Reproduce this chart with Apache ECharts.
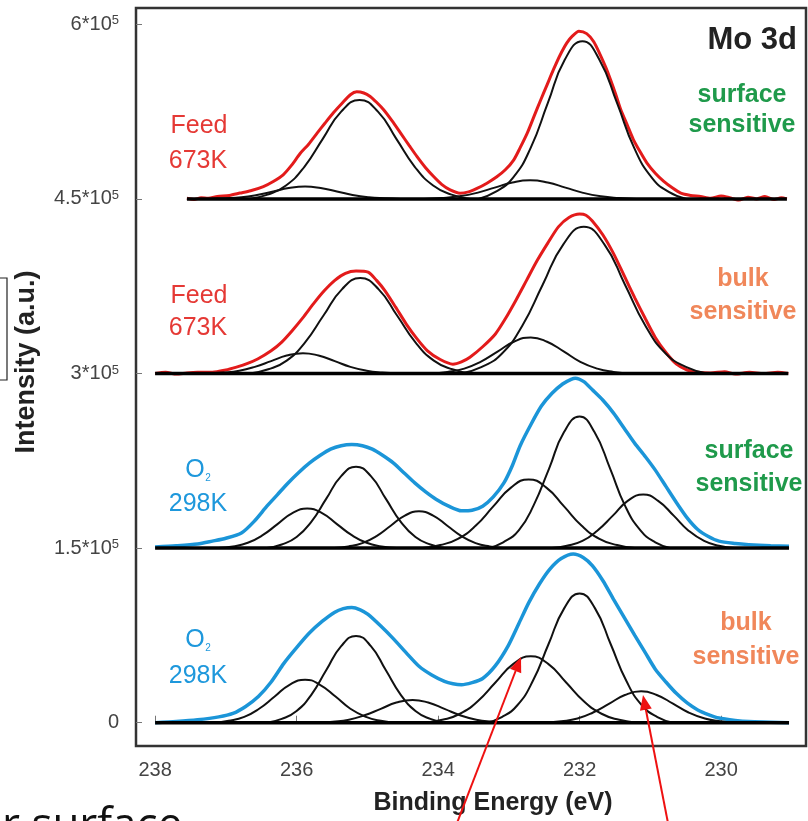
<!DOCTYPE html>
<html><head><meta charset="utf-8">
<script src="https://cdn.jsdelivr.net/npm/echarts@6/dist/echarts.min.js"></script>
<style>html,body{margin:0;padding:0;background:#fff}#c{width:808px;height:821px}</style>
</head><body><div id="c"></div>
<script>
// ---------- axis ticks ----------
const xTicks = [238, 236, 234, 232, 230];
const yTicks = [0, 150000, 300000, 450000, 600000];
const yTickLabels = ['0', '1.5*10', '3*10', '4.5*10', '6*10'];
const yTickExp = ['', '5', '5', '5', '5'];

// ---------- panel baselines (counts) ----------
const panelOffsets = [450000, 300000, 150000, 0];

// ---------- measured spectra: [binding energy eV, intensity above panel baseline in 1e3 counts] ----------
const p1Data = [[237.55,0.5],[237.45,-0.5],[237.35,1],[237.25,0.5],[237.12,2],[236.95,3],[236.80,5],[236.65,7],[236.47,10.6],[236.33,15],[236.19,20.7],[236.07,29],[235.95,39],[235.83,47],[235.71,56.5],[235.60,65],[235.48,74],[235.36,82],[235.24,89.5],[235.15,92],[235.05,91],[234.96,88],[234.87,83],[234.77,76.6],[234.65,67],[234.53,56.5],[234.41,46],[234.30,36.5],[234.18,27],[234.06,19],[233.95,12.5],[233.83,7.7],[233.69,4.9],[233.57,6],[233.45,9],[233.31,13.5],[233.17,19],[233.05,25],[232.93,33.6],[232.84,44],[232.74,56.5],[232.65,70],[232.55,85],[232.46,98],[232.37,111],[232.28,123],[232.18,134],[232.10,140],[232.01,144],[231.90,142],[231.80,135],[231.71,124],[231.63,113],[231.56,102],[231.49,90],[231.42,77],[231.33,64],[231.24,51],[231.14,40],[231.05,31],[230.93,22],[230.81,15],[230.69,9.5],[230.57,5],[230.43,3],[230.29,2],[230.15,0.5],[230.00,2.5],[229.88,1],[229.75,-1],[229.62,1.5],[229.50,0],[229.38,2],[229.25,-0.5],[229.15,1],[229.07,0]];
const p2Data = [[238.0,0],[237.85,1],[237.7,-0.5],[237.55,0.5],[237.4,1],[237.19,1],[237.0,3],[236.85,5.5],[236.72,8],[236.55,12.5],[236.36,19.5],[236.21,27],[236.06,37],[235.91,48],[235.76,60],[235.61,71],[235.46,80],[235.31,86],[235.16,88],[234.99,87],[234.87,80],[234.75,71],[234.60,57],[234.45,42.5],[234.30,30],[234.15,19.5],[233.97,12],[233.79,8],[233.67,10],[233.55,14],[233.37,23],[233.19,34],[233.05,47],[232.90,63],[232.75,80],[232.60,97],[232.45,112],[232.30,126],[232.15,134],[232.00,137],[231.91,136],[231.82,131],[231.67,119],[231.52,103],[231.37,84],[231.22,65],[231.07,47],[230.93,31],[230.78,18],[230.63,8],[230.48,3],[230.33,1],[230.15,0.5],[229.95,1.5],[229.8,-0.5],[229.6,1],[229.4,0],[229.2,1],[229.05,0]];
const p3Data = [[238.0,1],[237.7,2],[237.4,3.5],[237.19,6],[237.0,8.5],[236.78,13],[236.6,23],[236.42,36],[236.27,46],[236.12,56],[235.97,65],[235.82,73],[235.67,79.5],[235.52,85],[235.37,88],[235.22,89],[235.07,88],[234.93,85],[234.78,79.5],[234.63,73],[234.48,64.5],[234.33,56],[234.18,48.5],[234.03,42],[233.85,36],[233.67,32],[233.52,32.5],[233.37,36],[233.22,44],[233.07,56],[232.95,71],[232.84,88],[232.69,106],[232.54,122],[232.39,133],[232.24,141],[232.12,145],[232.06,146],[231.94,143],[231.82,136],[231.67,127],[231.52,116],[231.37,103],[231.22,90],[231.07,78.5],[230.93,67],[230.78,53],[230.63,39],[230.48,26],[230.33,16],[230.18,10],[230.03,6],[229.8,4],[229.61,3],[229.3,2],[229.04,1.5]];
const p4Data = [[238.0,0],[237.7,1],[237.4,2.5],[237.1,5],[236.90,8],[236.72,14],[236.54,22.5],[236.36,35],[236.18,51],[236.0,64.5],[235.82,77],[235.64,87],[235.46,95],[235.34,98],[235.22,99],[235.10,97],[234.99,93],[234.81,83],[234.63,72],[234.45,60],[234.27,48.5],[234.09,41],[233.91,35.5],[233.79,33.5],[233.67,32.7],[233.52,34.5],[233.37,38],[233.19,49],[233.01,66],[232.86,85],[232.72,103],[232.57,119],[232.42,132],[232.26,141],[232.09,145],[231.95,142],[231.82,135],[231.67,122],[231.52,106],[231.37,90.5],[231.22,75],[231.07,60],[230.93,46],[230.78,35],[230.63,25],[230.48,17],[230.33,11],[230.18,7],[230.03,4],[229.8,2],[229.61,1],[229.3,0.5],[229.04,0]];

// ---------- fitted components (same units) ----------
const p1FitA = [[236.67,0],[236.41,3.7],[236.15,11.5],[235.89,27.6],[235.63,51.6],[235.37,75],[235.11,85],[234.85,75],[234.59,51.6],[234.33,27.6],[234.07,11.5],[233.81,3.7],[233.55,0]];
const p1FitB = [[237.23,0],[237.01,0.5],[236.78,1.4],[236.56,3.4],[236.33,6.4],[236.11,9.3],[235.88,10.6],[235.66,9.3],[235.43,6.4],[235.21,3.4],[234.98,1.4],[234.76,0.5],[234.53,0]];
const p1FitC = [[233.43,0],[233.19,6],[232.94,18.3],[232.69,44],[232.45,82.2],[232.21,119.5],[231.96,135.5],[231.72,119.5],[231.47,82.2],[231.23,44],[230.98,18.3],[230.74,6],[230.49,0]];
const p1FitD = [[234.2,0],[233.95,0.7],[233.7,2.2],[233.45,5.2],[233.2,9.7],[232.95,14.1],[232.7,16],[232.45,14.1],[232.2,9.7],[231.95,5.2],[231.7,2.2],[231.45,0.7],[231.2,0]];

const p2FitA = [[236.66,0],[236.40,3.6],[236.14,11.1],[235.88,26.7],[235.62,49.8],[235.36,72.3],[235.10,82],[234.84,72.3],[234.58,49.8],[234.32,26.7],[234.06,11.1],[233.80,3.6],[233.54,0]];
const p2FitB = [[237.26,0],[237.04,0.8],[236.81,2.4],[236.59,5.7],[236.36,10.6],[236.14,15.4],[235.91,17.5],[235.69,15.4],[235.46,10.6],[235.24,5.7],[235.01,2.4],[234.79,0.8],[234.56,0]];
const p2FitC = [[233.68,0],[233.39,5.5],[233.10,17],[232.81,41],[232.52,76.5],[232.23,111],[231.94,126],[231.65,111],[231.36,76.5],[231.07,41],[230.78,17],[230.49,5.5],[230.20,0]];
const p2FitD = [[234.10,0],[233.87,1.4],[233.63,4.2],[233.40,10],[233.16,18.8],[232.93,27.3],[232.69,31],[232.46,27.3],[232.22,18.8],[231.99,10],[231.75,4.2],[231.52,1.4],[231.28,0]];

const p3FitA = [[236.42,0],[236.21,3.1],[236.00,9.5],[235.79,22.8],[235.58,42.5],[235.37,61.8],[235.16,70],[234.95,61.8],[234.74,42.5],[234.53,22.8],[234.32,9.5],[234.11,3.1],[233.90,0]];
const p3FitB = [[237.11,0],[236.90,1.5],[236.69,4.6],[236.48,11.1],[236.27,20.6],[236.06,30],[235.85,34],[235.64,30],[235.43,20.6],[235.22,11.1],[235.01,4.6],[234.80,1.5],[234.59,0]];
const p3FitC = [[235.47,0],[235.27,1.4],[235.07,4.3],[234.87,10.3],[234.67,19.2],[234.47,27.9],[234.27,31.6],[234.07,27.9],[233.87,19.2],[233.67,10.3],[233.47,4.3],[233.27,1.4],[233.07,0]];
const p3FitD = [[234.22,0],[233.97,2.6],[233.72,8],[233.47,19.2],[233.22,35.8],[232.97,52],[232.72,59],[232.47,52],[232.22,35.8],[231.97,19.2],[231.72,8],[231.47,2.6],[231.22,0]];
const p3FitE = [[233.29,0],[233.08,5],[232.86,15.3],[232.65,36.7],[232.43,68.6],[232.22,99.7],[232.00,113],[231.79,99.7],[231.57,68.6],[231.36,36.7],[231.14,15.3],[230.93,5],[230.71,0]];
const p3FitF = [[232.39,0],[232.18,2],[231.96,6.2],[231.75,15],[231.53,27.9],[231.32,40.6],[231.10,46],[230.89,40.6],[230.67,27.9],[230.46,15],[230.24,6.2],[230.03,2],[229.81,0]];

const p4FitA = [[236.42,0],[236.21,3.3],[236.00,10.1],[235.79,24.2],[235.58,45.3],[235.37,65.8],[235.16,74.6],[234.95,65.8],[234.74,45.3],[234.53,24.2],[234.32,10.1],[234.11,3.3],[233.90,0]];
const p4FitB = [[237.17,0],[236.96,1.6],[236.74,5],[236.53,12],[236.31,22.5],[236.10,32.6],[235.88,37],[235.67,32.6],[235.45,22.5],[235.24,12],[235.02,5],[234.81,1.6],[234.59,0]];
const p4FitC = [[235.71,0],[235.49,0.9],[235.26,2.6],[235.04,6.4],[234.81,11.9],[234.59,17.3],[234.36,19.6],[234.14,17.3],[233.91,11.9],[233.69,6.4],[233.46,2.6],[233.24,0.9],[233.01,0]];
const p4FitD = [[234.19,0],[233.94,2.5],[233.69,7.7],[233.44,18.5],[233.19,34.6],[232.94,50.3],[232.69,57],[232.44,50.3],[232.19,34.6],[231.94,18.5],[231.69,7.7],[231.44,2.5],[231.19,0]];
const p4FitE = [[233.32,0],[233.10,4.9],[232.88,15],[232.66,36],[232.44,67.4],[232.22,98],[232.00,111],[231.78,98],[231.56,67.4],[231.34,36],[231.12,15],[230.90,4.9],[230.68,0]];
const p4FitF = [[232.48,0],[232.26,1.2],[232.03,3.6],[231.81,8.8],[231.58,16.4],[231.36,23.8],[231.13,27],[230.91,23.8],[230.68,16.4],[230.46,8.8],[230.23,3.6],[230.01,1.2],[229.78,0]];

// ---------- texts ----------
const panelLeftLabels = [['Feed','673K'], ['Feed','673K'], ['O','298K'], ['O','298K']];
const panelRightLabels = [['surface','sensitive'], ['bulk','sensitive'], ['surface','sensitive'], ['bulk','sensitive']];
const xAxisTitle = 'Binding Energy (eV)';
const yAxisTitle = 'Intensity (a.u.)';
const cornerTitle = 'Mo 3d';

// ---------- build ----------
const FONT = "'Liberation Sans', Arial, Helvetica, sans-serif";
const RED = '#e31b1b', BLUE = '#1b95d8';
const panels = [
  {off: panelOffsets[0], data: p1Data, color: RED, w: 3, fits: [p1FitA, p1FitB, p1FitC, p1FitD]},
  {off: panelOffsets[1], data: p2Data, color: RED, w: 3, fits: [p2FitA, p2FitB, p2FitC, p2FitD]},
  {off: panelOffsets[2], data: p3Data, color: BLUE, w: 3.5, fits: [p3FitA, p3FitB, p3FitC, p3FitD, p3FitE, p3FitF]},
  {off: panelOffsets[3], data: p4Data, color: BLUE, w: 3.5, fits: [p4FitA, p4FitB, p4FitC, p4FitD, p4FitE, p4FitF]}
];
const toXY = (arr, off) => arr.map(p => [p[0], off + p[1] * 1000]);
const series = [];
panels.forEach(p => {
  series.push({type: 'line', data: toXY(p.data, p.off), showSymbol: false, smooth: 0.25,
    lineStyle: {color: p.color, width: p.w}, z: 2, silent: true});
  p.fits.forEach(f => series.push({type: 'line', data: toXY(f, p.off), showSymbol: false, smooth: 0.5,
    lineStyle: {color: '#111', width: 2}, z: 3, silent: true}));
  const x0 = p.data[0][0], x1 = p.data[p.data.length - 1][0];
  series.push({type: 'line', data: [[x0, p.off], [x1, p.off]], showSymbol: false,
    lineStyle: {color: '#000', width: 3.5}, z: 4, silent: true});
});

// label layout
const leftLabelColors = ['#e53935', '#e53935', '#1e98dc', '#1e98dc'];
const rightLabelColors = ['#1f9a4b', '#f0875a', '#1f9a4b', '#f0875a'];
const leftY = [[126, 161], [296, 328], [470, 504], [640, 676]];
const rightPos = [[742, 95, 125], [743, 279, 312], [749, 451, 484], [746, 623, 657]];
const graphics = [];
const txt = (text, x, y, size, color, bold, align, extra) => Object.assign({
  type: 'text', x: x, y: y, z: 50,
  style: {text: text, fill: color, fontSize: size, fontWeight: bold ? 'bold' : 'normal', fontFamily: FONT,
    align: align || 'center', verticalAlign: 'middle'}
}, extra || {});
panels.forEach((p, i) => {
  const [a, b] = panelLeftLabels[i];
  if (a === 'O') {
    graphics.push(txt('O', 195, leftY[i][0], 25, leftLabelColors[i], false));
    graphics.push(txt('2', 208, leftY[i][0] + 8, 10, leftLabelColors[i], false));
  } else {
    graphics.push(txt(a, 199, leftY[i][0], 25, leftLabelColors[i], false));
  }
  graphics.push(txt(b, 198, leftY[i][1], 25, leftLabelColors[i], false));
  const [c, d] = panelRightLabels[i];
  graphics.push(txt(c, rightPos[i][0], rightPos[i][1], 25, rightLabelColors[i], true));
  graphics.push(txt(d, rightPos[i][0], rightPos[i][2], 25, rightLabelColors[i], true));
});
graphics.push(txt(cornerTitle, 797, 40, 31, '#222', true, 'right'));
graphics.push(txt(xAxisTitle, 493, 803, 25, '#222', true));
graphics.push(txt(yAxisTitle, 27, 362, 27, '#222', true, 'center', {rotation: Math.PI / 2}));
// slide fragments around the figure
graphics.push({type: 'text', x: 2, y: 826, z: 50, style: {text: 'r surface', fill: '#111', fontSize: 44, fontFamily: "'Open Sans', 'Noto Sans', sans-serif", align: 'left', verticalAlign: 'middle'}});
graphics.push({type: 'rect', shape: {x: -10, y: 278, width: 17, height: 102}, style: {fill: 'none', stroke: '#222', lineWidth: 1.2}, z: 50});
// red arrows
function arrow(x0, y0, x1, y1) {
  const dx = x1 - x0, dy = y1 - y0, L = Math.hypot(dx, dy), ux = dx / L, uy = dy / L;
  const hl = 15, hw = 6;
  const bx = x1 - ux * hl, by = y1 - uy * hl;
  graphics.push({type: 'line', shape: {x1: x0, y1: y0, x2: bx, y2: by}, style: {stroke: '#ee1111', lineWidth: 2}, z: 60});
  graphics.push({type: 'polygon', shape: {points: [[x1, y1], [bx - uy * hw, by + ux * hw], [bx + uy * hw, by - ux * hw]]}, style: {fill: '#ee1111'}, z: 60});
}
arrow(457, 823, 521, 657);
arrow(668, 823, 643, 695);

const chart = echarts.init(document.getElementById('c'), null, {renderer: 'canvas'});
chart.setOption({
  animation: false,
  backgroundColor: '#fff',
  grid: {left: 136, right: 2, top: 8, bottom: 75, show: true, borderColor: '#333', borderWidth: 2.5, backgroundColor: 'transparent'},
  xAxis: {
    type: 'value', inverse: true, min: 228.8, max: 238.27,
    axisLine: {show: false}, splitLine: {show: false},
    axisTick: {inside: true, length: 7, customValues: xTicks, lineStyle: {color: '#777', width: 1}},
    axisLabel: {customValues: xTicks, fontSize: 20, color: '#444', fontFamily: FONT, margin: 14}
  },
  yAxis: {
    type: 'value', min: -20000, max: 614000,
    axisLine: {show: false}, splitLine: {show: false},
    axisTick: {inside: true, length: 6, customValues: yTicks, lineStyle: {color: '#777', width: 1}},
    axisLabel: {
      customValues: yTicks, margin: 17,
      formatter: v => { const i = yTicks.indexOf(v); return yTickExp[i] ? '{b|' + yTickLabels[i] + '}{s|' + yTickExp[i] + '}' : '{b|' + yTickLabels[i] + '}'; },
      rich: {b: {fontSize: 20, color: '#444', fontFamily: FONT}, s: {fontSize: 13, color: '#444', fontFamily: FONT, verticalAlign: 'top'}}
    }
  },
  series: series,
  graphic: {elements: graphics}
});
</script></body></html>
